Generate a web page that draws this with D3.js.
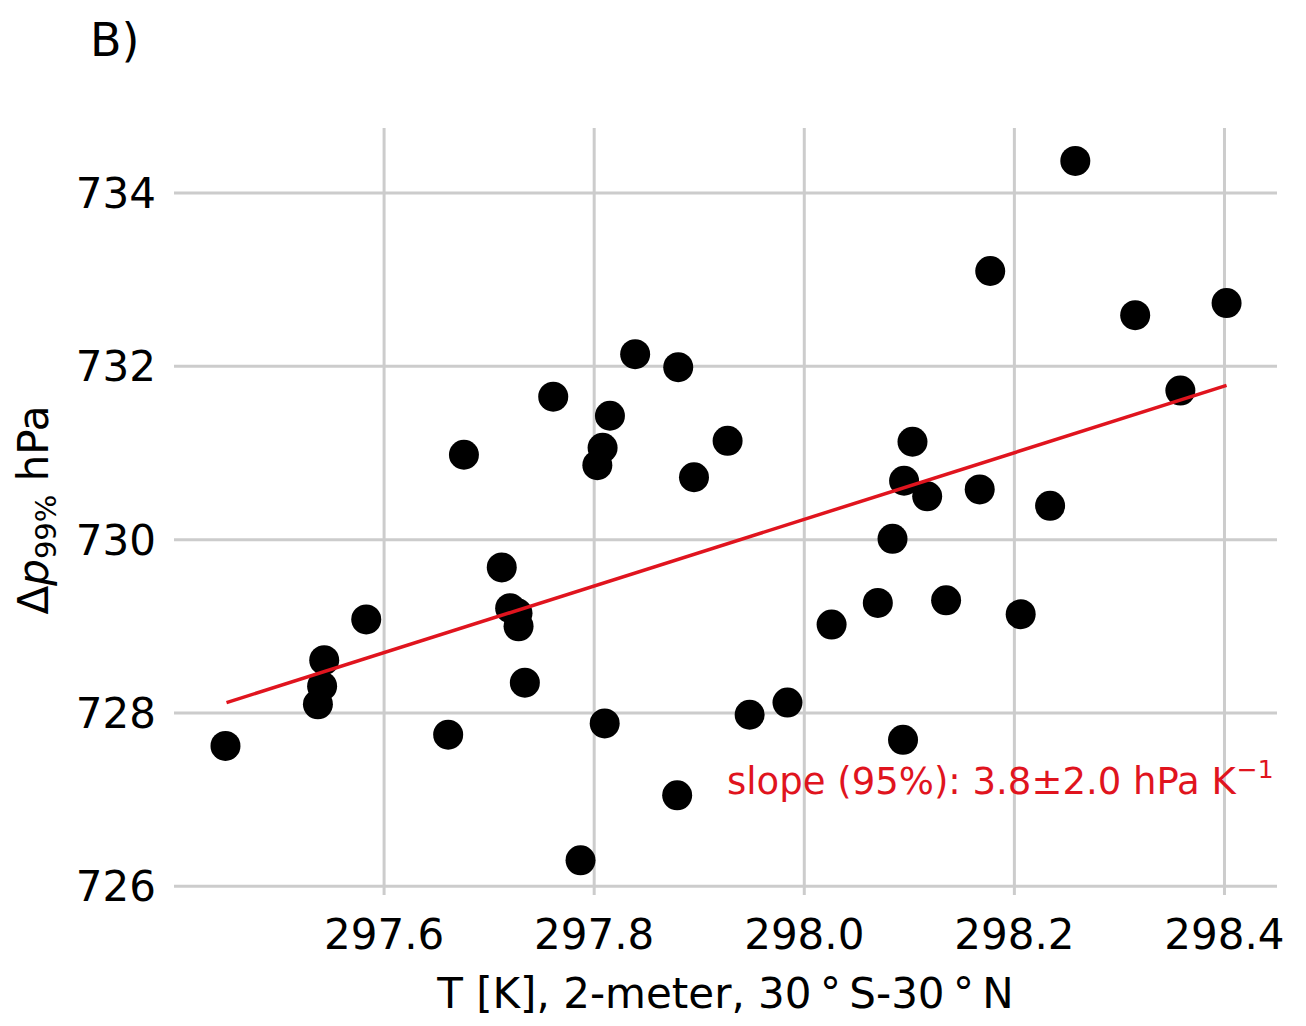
<!DOCTYPE html>
<html lang="en">
<head>
    <meta charset="UTF-8">
    <title>B) scatter</title>
    <script src="https://d3js.org/d3.v7.min.js"></script>
    <style>
        body { margin: 0; background: #fff; }
        text { font-family: "DejaVu Sans", sans-serif; }
    </style>
</head>
<body>
<svg width="1306" height="1026"></svg>
<script>
    // temperature (K) of each sample
    var tempK = [297.449, 297.537, 297.541, 297.543, 297.583, 297.661, 297.676, 297.712,
        297.720, 297.727, 297.728, 297.734, 297.761, 297.787, 297.803, 297.808, 297.810,
        297.815, 297.839, 297.879, 297.880, 297.895, 297.927, 297.948, 297.984, 298.026,
        298.070, 298.084, 298.094, 298.095, 298.103, 298.117, 298.135, 298.167, 298.177,
        298.206, 298.234, 298.258, 298.315, 298.358, 298.402];
    // delta p 99% (hPa)
    var dp99 = [727.62, 728.10, 728.31, 728.61, 729.08, 727.75, 730.98, 729.68,
        729.21, 729.15, 729.00, 728.35, 731.65, 726.30, 730.86, 731.06, 727.88,
        731.43, 732.14, 727.05, 731.99, 730.72, 731.14, 727.98, 728.12, 729.02,
        729.27, 730.01, 727.69, 730.68, 731.13, 730.50, 729.30, 730.58, 733.10,
        729.14, 730.39, 734.37, 732.59, 731.72, 732.73];
    // regression line end points
    var fitX = [297.45, 298.402];
    var fitY = [728.12, 731.78];

    var xTicks = [297.6, 297.8, 298.0, 298.2, 298.4];
    var yTicks = [726, 728, 730, 732, 734];

    var svg = d3.select("svg");

    var x = d3.scaleLinear().domain([297.4, 298.45]).range([174, 1277]);
    var y = d3.scaleLinear().domain([725.9, 734.75]).range([895, 128]);

    // grid
    svg.append("g").selectAll("line")
        .data(xTicks).enter().append("line")
        .attr("x1", function (d) { return x(d); })
        .attr("x2", function (d) { return x(d); })
        .attr("y1", y.range()[1]).attr("y2", y.range()[0])
        .attr("stroke", "#cccccc").attr("stroke-width", 3);
    svg.append("g").selectAll("line")
        .data(yTicks).enter().append("line")
        .attr("y1", function (d) { return y(d); })
        .attr("y2", function (d) { return y(d); })
        .attr("x1", x.range()[0]).attr("x2", x.range()[1])
        .attr("stroke", "#cccccc").attr("stroke-width", 3);

    // tick labels
    svg.append("g").selectAll("text")
        .data(xTicks).enter().append("text")
        .attr("x", function (d) { return x(d); })
        .attr("y", 949)
        .attr("text-anchor", "middle")
        .attr("font-size", 42)
        .text(function (d) { return d3.format(".1f")(d); });
    svg.append("g").selectAll("text")
        .data(yTicks).enter().append("text")
        .attr("x", 156)
        .attr("y", function (d) { return y(d) + 15; })
        .attr("text-anchor", "end")
        .attr("font-size", 42)
        .text(function (d) { return d; });

    // points
    svg.append("g").selectAll("circle")
        .data(tempK).enter().append("circle")
        .attr("cx", function (d) { return x(d); })
        .attr("cy", function (d, i) { return y(dp99[i]); })
        .attr("r", 15)
        .attr("fill", "#000");

    // fit line
    svg.append("line")
        .attr("x1", x(fitX[0])).attr("y1", y(fitY[0]))
        .attr("x2", x(fitX[1])).attr("y2", y(fitY[1]))
        .attr("stroke", "#e0141e").attr("stroke-width", 3.5);

    // slope annotation
    var ann = svg.append("text")
        .attr("x", 727).attr("y", 794)
        .attr("font-size", 37)
        .attr("fill", "#e0141e");
    ann.append("tspan").text("slope (95%): 3.8\u00b12.0 hPa K");
    ann.append("tspan").attr("dx", 1).attr("dy", -16).attr("font-size", 25).text("\u22121");

    // panel label
    svg.append("text").attr("x", 90).attr("y", 56)
        .attr("font-size", 46).text("B)");

    // axis labels
    svg.append("text")
        .attr("x", x(297.925)).attr("y", 1008)
        .attr("text-anchor", "middle")
        .attr("font-size", 42)
        .text("T [K], 2-meter, 30\u2009\u00b0\u2009S-30\u2009\u00b0\u2009N");

    var yl = svg.append("text")
        .attr("transform", "translate(48," + 510 + ") rotate(-90)")
        .attr("text-anchor", "middle")
        .attr("font-size", 42);
    yl.append("tspan").text("\u0394");
    yl.append("tspan").attr("font-style", "italic").text("p");
    yl.append("tspan").attr("font-size", 29).attr("dy", 8).text("99%");
    yl.append("tspan").attr("dy", -8).text(" hPa");
</script>
</body>
</html>
